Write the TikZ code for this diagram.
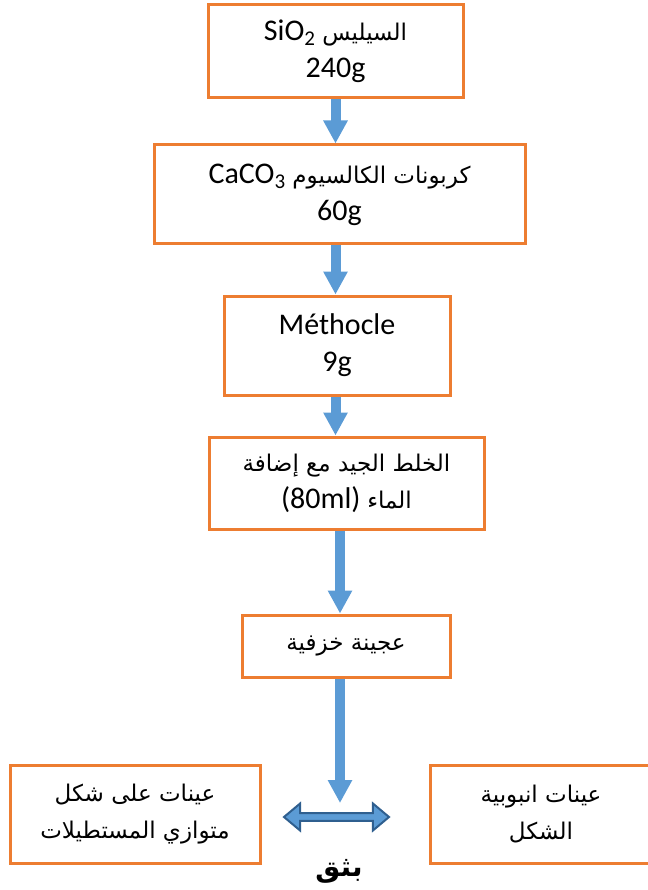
\documentclass[tikz,border=0pt]{standalone}
\usepackage{fontspec}
\setmainfont{Carlito}
\newfontfamily\arabicfont[Script=Arabic]{DejaVu Sans}
\TeXXeTstate=1
\usetikzlibrary{arrows.meta,shapes.arrows}
\definecolor{boxorange}{HTML}{ED7D31}
\definecolor{flowblue}{HTML}{5B9BD5}
\definecolor{edgeblue}{HTML}{2F5F8F}
\newcommand{\artext}[1]{{\arabicfont\fontsize{23}{37}\selectfont\beginR #1\endR}}

\begin{document}
\begin{tikzpicture}[x=1pt,y=-1pt,
  box/.style={draw=boxorange,line width=3pt,fill=white,align=center,
    inner sep=0pt,font=\fontsize{30}{37}\selectfont},
  flow/.style={color=flowblue,line width=10pt,
    -{Triangle[length=23pt,width=23pt]}}]
\useasboundingbox (0,0) rectangle (647,890);
%%% the mixture, step by step
\node[box,minimum width=255,minimum height=93] (silica) at (335.5,51.5)
{SiO\textsubscript{2} \artext{السيليس}\\240g};
\node[box,minimum width=371,minimum height=99] (calcite) at (339.5,194.5)
{CaCO\textsubscript{3} \artext{كربونات الكالسيوم}\\60g};
\node[box,minimum width=226,minimum height=99] (methocel) at (337,345.5)
{Méthocle\\9g};
\node[box,minimum width=275,minimum height=92] (mixing) at (346.5,483)
{\artext{الخلط الجيد مع إضافة}\\(80ml) \artext{الماء}};
\node[box,minimum width=208,minimum height=62] (paste) at (346,646)
{\artext{عجينة خزفية}};
%%%%%%%%%%%%%%%%%%%%%
%%% the two kinds of samples
\node[box,minimum width=250,minimum height=98] (bars) at (135,814)
{\artext{عينات على شكل}\\\artext{متوازي المستطيلات}};
\node[box,minimum width=222,minimum height=98] (tubes) at (541,814)
{\artext{عينات انبوبية}\\\artext{الشكل}};
\node[shape=double arrow,fill=flowblue,draw=edgeblue,line width=2pt,
  minimum height=105,minimum width=27,inner sep=0pt,
  double arrow head extend=2.5,double arrow tip angle=80] (press) at (336.5,817) {};
\node[font=\fontsize{28}{34}\selectfont\arabicfont\bfseries] (extrude) at (339,871)
{\beginR بثق\endR};
\coordinate (tip) at (340,803);
%%%
\draw[flow] (silica.south) -- (silica.south |- calcite.north);
\draw[flow] (silica.south |- calcite.south) -- (silica.south |- methocel.north);
\draw[flow] (silica.south |- methocel.south) -- (silica.south |- mixing.north);
\draw[flow] (tip |- mixing.south) -- (tip |- paste.north);
\draw[flow] (tip |- paste.south) -- (tip);
\end{tikzpicture}
\end{document}
